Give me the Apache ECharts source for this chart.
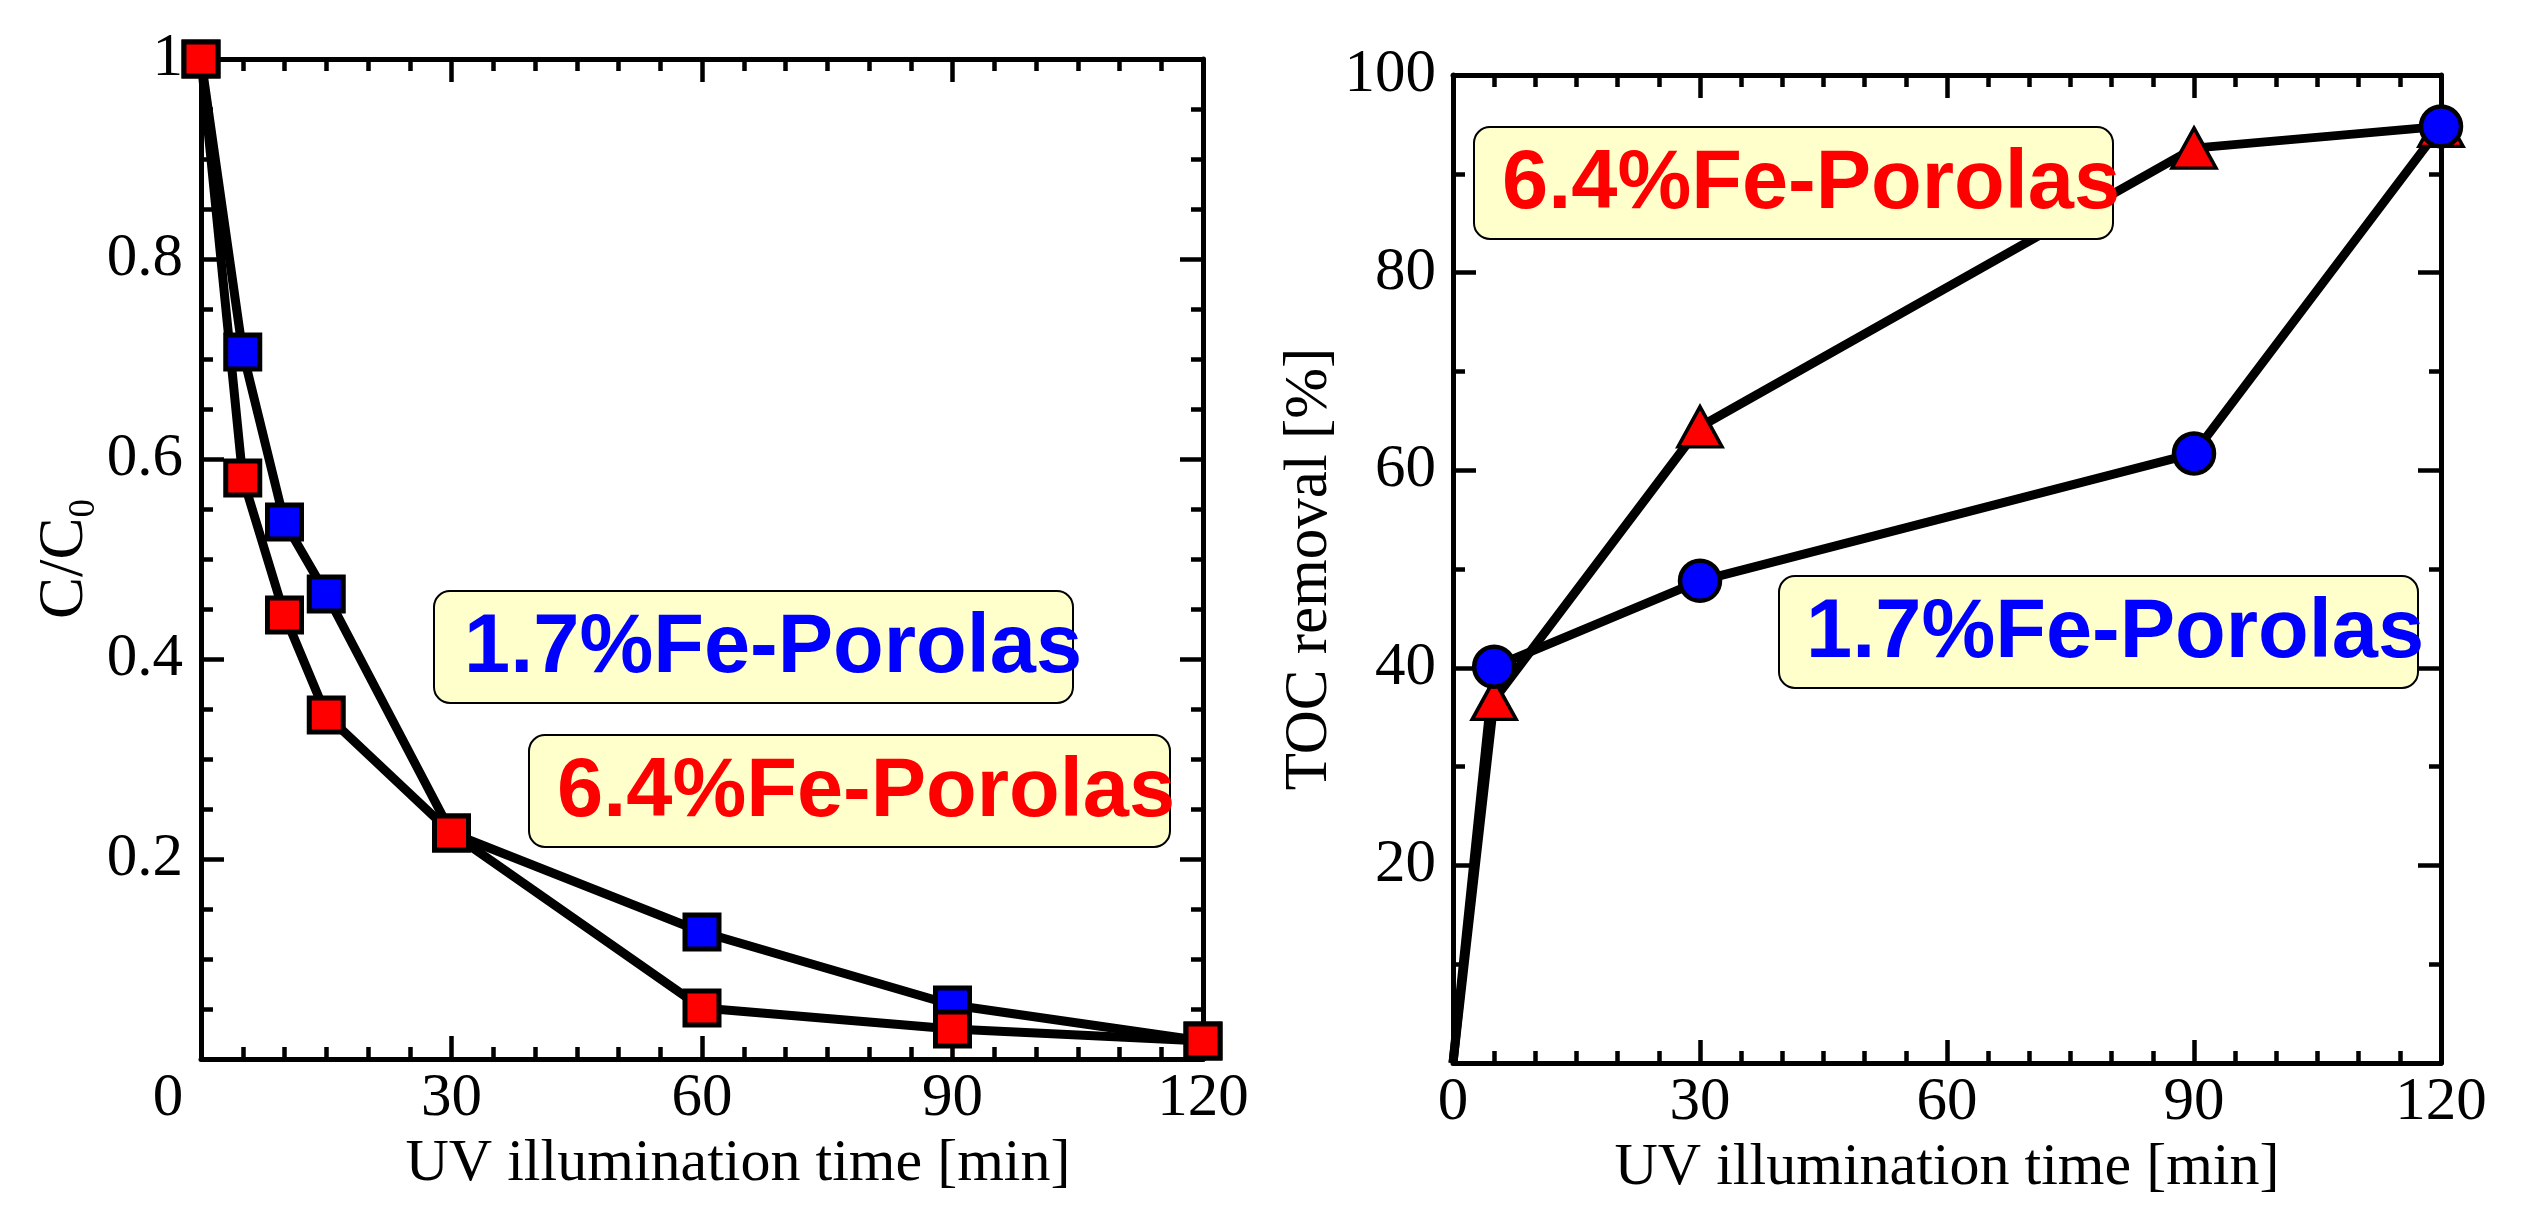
<!DOCTYPE html>
<html>
<head>
<meta charset="utf-8">
<script src="https://cdn.jsdelivr.net/npm/echarts@6/dist/echarts.min.js"></script>
<style>
  html, body { margin: 0; padding: 0; background: #fff; }
  #chart { width: 2531px; height: 1206px; }
</style>
</head>
<body>
<div id="chart"></div>
<script>
// 数据：左图 C/C0，右图 TOC removal
var timeLeft = [0, 5, 10, 15, 30, 60, 90, 120];
var c17 = [1.0, 0.707, 0.537, 0.465, 0.226, 0.127, 0.054, 0.018];
var c64 = [1.0, 0.581, 0.444, 0.344, 0.226, 0.051, 0.030, 0.018];

var timeRight = [0, 5, 30, 90, 120];
var toc17 = [0, 40.1, 48.8, 61.7, 94.8];
var toc64 = [0, 36.8, 64.4, 92.6, 94.8];

var name17 = '1.7%Fe-Porolas';
var name64 = '6.4%Fe-Porolas';

var serif = '"Liberation Serif", "Times New Roman", serif';
var sans = '"Liberation Sans", Arial, sans-serif';

function pairs(xs, ys, hideFirst) {
    return xs.map(function (x, i) {
        var item = { value: [x, ys[i]] };
        if (hideFirst && i === 0) item.symbol = 'none';
        return item;
    });
}

var myChart = echarts.init(document.getElementById('chart'));

var tickStyle = { show: true, inside: true, length: 23, lineStyle: { color: '#000', width: 4.5 } };
var lineStyle = { show: true, onZero: false, lineStyle: { color: '#000', width: 5 } };
function minor(n) {
    return { show: true, splitNumber: n, length: 12, lineStyle: { color: '#000', width: 4.5 } };
}
var labelStyle = { color: '#000', fontFamily: serif, fontSize: 61, lineHeight: 60 };
var titleStyle = { color: '#000', fontFamily: serif, fontSize: 60, lineHeight: 60 };

function mirrorX(grid, max) {
    return {
        type: 'value', gridIndex: grid, position: 'top', min: 0, max: max, interval: 30,
        axisLine: lineStyle, axisTick: tickStyle, minorTick: minor(6),
        axisLabel: { show: false }, splitLine: { show: false }
    };
}
function mirrorY(grid, max, interval, n) {
    return {
        type: 'value', gridIndex: grid, position: 'right', min: 0, max: max, interval: interval,
        axisLine: lineStyle, axisTick: tickStyle, minorTick: minor(n),
        axisLabel: { show: false }, splitLine: { show: false }
    };
}

var option = {
    backgroundColor: '#fff',
    animation: false,
    grid: [
        { left: 201, right: 1328, top: 59, bottom: 147, outerBoundsMode: 'none' },
        { left: 1453, right: 90, top: 75, bottom: 143, outerBoundsMode: 'none' }
    ],
    xAxis: [
        {
            type: 'value', gridIndex: 0, position: 'bottom', min: 0, max: 120, interval: 30,
            name: 'UV illumination time [min]', nameLocation: 'middle', nameGap: 68,
            nameTextStyle: Object.assign({}, titleStyle, { padding: [0, 0, 0, 72] }),
            axisLine: lineStyle, axisTick: tickStyle, minorTick: minor(6), splitLine: { show: false },
            axisLabel: Object.assign({}, labelStyle, {
                margin: 10,
                formatter: function (v) { return v === 0 ? '{o|0}' : String(v); },
                rich: { o: { fontFamily: serif, fontSize: 61, lineHeight: 60, color: '#000', padding: [0, 66, 0, 0] } }
            })
        },
        mirrorX(0, 120),
        {
            type: 'value', gridIndex: 1, position: 'bottom', min: 0, max: 120, interval: 30,
            name: 'UV illumination time [min]', nameLocation: 'middle', nameGap: 64,
            nameTextStyle: titleStyle,
            axisLine: lineStyle, axisTick: tickStyle, minorTick: minor(6), splitLine: { show: false },
            axisLabel: Object.assign({}, labelStyle, { margin: 10 })
        },
        mirrorX(1, 120)
    ],
    yAxis: [
        {
            type: 'value', gridIndex: 0, position: 'left', min: 0, max: 1, interval: 0.2,
            name: '{m|C/C}{s|0}', nameLocation: 'middle', nameGap: 70,
            nameTextStyle: {
                color: '#000', fontFamily: serif, fontSize: 60,
                rich: {
                    m: { fontFamily: serif, fontSize: 63, lineHeight: 60, color: '#000', verticalAlign: 'top' },
                    s: { fontFamily: serif, fontSize: 37, lineHeight: 36, color: '#000', verticalAlign: 'top', padding: [32, 0, 0, 0] }
                }
            },
            axisLine: lineStyle, axisTick: tickStyle, minorTick: minor(4), splitLine: { show: false },
            axisLabel: Object.assign({}, labelStyle, {
                margin: 18,
                formatter: function (v) { return v === 0 ? '' : String(+v.toFixed(1)); }
            })
        },
        mirrorY(0, 1, 0.2, 4),
        {
            type: 'value', gridIndex: 1, position: 'left', min: 0, max: 100, interval: 20,
            name: 'TOC removal [%]', nameLocation: 'middle', nameGap: 72,
            nameTextStyle: Object.assign({}, titleStyle, { fontSize: 61 }),
            axisLine: lineStyle, axisTick: tickStyle, minorTick: minor(2), splitLine: { show: false },
            axisLabel: Object.assign({}, labelStyle, {
                margin: 17,
                formatter: function (v) { return v === 0 ? '' : String(v); }
            })
        },
        mirrorY(1, 100, 20, 2)
    ],
    series: [
        {
            name: name17, type: 'line', xAxisIndex: 0, yAxisIndex: 0,
            data: pairs(timeLeft, c17, false),
            symbol: 'rect', symbolSize: 34,
            lineStyle: { color: '#000', width: 9 },
            itemStyle: { color: '#0000ff', borderColor: '#000', borderWidth: 5 }
        },
        {
            name: name64, type: 'line', xAxisIndex: 0, yAxisIndex: 0,
            data: pairs(timeLeft, c64, false),
            symbol: 'rect', symbolSize: 34,
            lineStyle: { color: '#000', width: 9 },
            itemStyle: { color: '#ff0000', borderColor: '#000', borderWidth: 5 }
        },
        {
            name: name64, type: 'line', xAxisIndex: 2, yAxisIndex: 2,
            data: pairs(timeRight, toc64, true),
            symbol: 'triangle', symbolSize: [44, 40],
            lineStyle: { color: '#000', width: 9 },
            itemStyle: { color: '#ff0000', borderColor: '#000', borderWidth: 3.5 }
        },
        {
            name: name17, type: 'line', xAxisIndex: 2, yAxisIndex: 2,
            data: pairs(timeRight, toc17, true),
            symbol: 'circle', symbolSize: 40,
            lineStyle: { color: '#000', width: 9 },
            itemStyle: { color: '#0000ff', borderColor: '#000', borderWidth: 4.5 }
        }
    ],
    graphic: []
};

// 标注框
var boxes = [
    { x: 434, y: 591, w: 639, h: 112, tx: 464, text: name17, color: '#0000ff' },
    { x: 529, y: 735, w: 641, h: 112, tx: 557, text: name64, color: '#ff0000' },
    { x: 1474, y: 127, w: 639, h: 112, tx: 1502, text: name64, color: '#ff0000' },
    { x: 1779, y: 576, w: 639, h: 112, tx: 1806, text: name17, color: '#0000ff' }
];
boxes.forEach(function (b) {
    option.graphic.push({
        type: 'rect', z: 100,
        shape: { x: b.x, y: b.y, width: b.w, height: b.h, r: 16 },
        style: { fill: '#ffffcc', stroke: '#000', lineWidth: 2 }
    });
    option.graphic.push({
        type: 'text', z: 101,
        style: {
            x: b.tx, y: b.y + b.h / 2 + 2, text: b.text, fill: b.color,
            font: 'bold 83px ' + sans,
            align: 'left', verticalAlign: 'middle',
            textAlign: 'left', textVerticalAlign: 'middle'
        }
    });
});

myChart.setOption(option);
</script>
</body>
</html>
